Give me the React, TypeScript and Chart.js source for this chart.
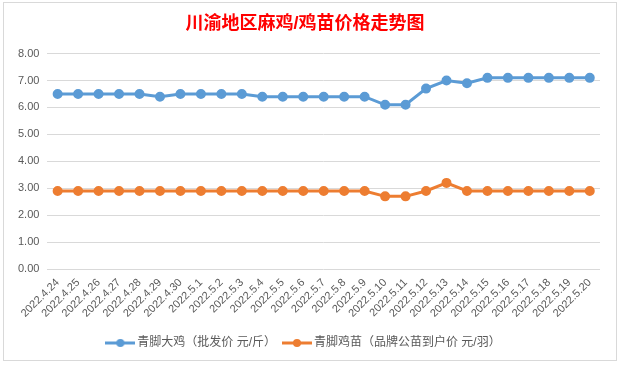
import React, { useEffect, useRef } from "react";
import { Chart, registerables } from "chart.js";

Chart.register(...registerables);

const title = "川渝地区麻鸡/鸡苗价格走势图";
const categories = [
  "2022.4.24", "2022.4.25", "2022.4.26", "2022.4.27", "2022.4.28", "2022.4.29", "2022.4.30",
  "2022.5.1", "2022.5.2", "2022.5.3", "2022.5.4", "2022.5.5", "2022.5.6", "2022.5.7",
  "2022.5.8", "2022.5.9", "2022.5.10", "2022.5.11", "2022.5.12", "2022.5.13", "2022.5.14",
  "2022.5.15", "2022.5.16", "2022.5.17", "2022.5.18", "2022.5.19", "2022.5.20",
];
const chickenLabel = "青脚大鸡（批发价 元/斤）";
const chickenPrices = [
  6.5, 6.5, 6.5, 6.5, 6.5, 6.4, 6.5, 6.5, 6.5, 6.5, 6.4, 6.4, 6.4, 6.4,
  6.4, 6.4, 6.1, 6.1, 6.7, 7.0, 6.9, 7.1, 7.1, 7.1, 7.1, 7.1, 7.1,
];
const chickLabel = "青脚鸡苗（品牌公苗到户价 元/羽）";
const chickPrices = [
  2.9, 2.9, 2.9, 2.9, 2.9, 2.9, 2.9, 2.9, 2.9, 2.9, 2.9, 2.9, 2.9, 2.9,
  2.9, 2.9, 2.7, 2.7, 2.9, 3.2, 2.9, 2.9, 2.9, 2.9, 2.9, 2.9, 2.9,
];
const yMin = 0;
const yMax = 8;
const yStep = 1;

const BLUE = "#5b9bd5";
const ORANGE = "#ed7d31";
const TEXT = "#595959";
const GRID = "#d9d9d9";
const FONT = "'Liberation Sans', 'Noto Sans CJK SC', sans-serif";

function legendMarker(color: string): HTMLCanvasElement {
  const c = document.createElement("canvas");
  c.width = 30;
  c.height = 10;
  const ctx = c.getContext("2d")!;
  ctx.strokeStyle = color;
  ctx.lineWidth = 3;
  ctx.beginPath();
  ctx.moveTo(0, 5);
  ctx.lineTo(30, 5);
  ctx.stroke();
  ctx.fillStyle = color;
  ctx.beginPath();
  ctx.arc(15, 5, 4, 0, Math.PI * 2);
  ctx.fill();
  return c;
}

export default function App() {
  const ref = useRef<HTMLCanvasElement | null>(null);

  useEffect(() => {
    document.body.style.margin = "0";
    if (!ref.current) return;
    const blueMarker = legendMarker(BLUE);
    const orangeMarker = legendMarker(ORANGE);
    const chart = new Chart(ref.current, {
      type: "line",
      data: {
        labels: categories,
        datasets: [
          {
            label: chickenLabel,
            data: chickenPrices,
            borderColor: BLUE,
            backgroundColor: BLUE,
            borderWidth: 3,
            pointRadius: 3.5,
            pointBackgroundColor: BLUE,
            pointBorderColor: BLUE,
            tension: 0,
          },
          {
            label: chickLabel,
            data: chickPrices,
            borderColor: ORANGE,
            backgroundColor: ORANGE,
            borderWidth: 3,
            pointRadius: 3.5,
            pointBackgroundColor: ORANGE,
            pointBorderColor: ORANGE,
            tension: 0,
          },
        ],
      },
      options: {
        animation: false,
        responsive: false,
        maintainAspectRatio: false,
        layout: { padding: { left: 6, right: 16, top: 2, bottom: 1 } },
        plugins: {
          title: {
            display: true,
            text: title,
            color: "#ff0000",
            font: { size: 18, family: FONT, weight: "bold" },
            padding: { top: 8, bottom: 19 },
          },
          legend: {
            position: "bottom",
            labels: {
              color: TEXT,
              font: { size: 12, family: FONT },
              usePointStyle: true,
              pointStyleWidth: 22,
              padding: 10,
              generateLabels: (ch: any) =>
                ch.data.datasets.map((ds: any, i: number) => ({
                  text: ds.label,
                  fillStyle: ds.borderColor,
                  strokeStyle: ds.borderColor,
                  fontColor: TEXT,
                  lineWidth: 0,
                  pointStyle: i === 0 ? blueMarker : orangeMarker,
                  hidden: false,
                  datasetIndex: i,
                })),
            },
          },
          tooltip: { enabled: false },
        },
        scales: {
          x: {
            offset: true,
            grid: { display: false, drawTicks: false },
            border: { display: false },
            ticks: {
              color: TEXT,
              font: { size: 11, family: FONT },
              minRotation: 45,
              maxRotation: 45,
              autoSkip: false,
              padding: 7,
            },
          },
          y: {
            min: yMin,
            max: yMax,
            grid: { color: GRID, drawTicks: false },
            border: { display: false },
            ticks: {
              stepSize: yStep,
              color: TEXT,
              font: { size: 11, family: FONT },
              padding: 8,
              callback: (v: any) => Number(v).toFixed(2),
            },
          },
        },
      },
    });
    return () => chart.destroy();
  }, []);

  return (
    <div style={{ position: "absolute", left: 0, top: 0, width: 620, height: 365, background: "#fff" }}>
      <div
        style={{
          position: "absolute",
          left: 3,
          top: 2,
          width: 612,
          height: 357,
          border: "1px solid #d9d9d9",
          background: "#fff",
        }}
      >
        <canvas ref={ref} width={612} height={357} style={{ display: "block" }} />
      </div>
    </div>
  );
}
